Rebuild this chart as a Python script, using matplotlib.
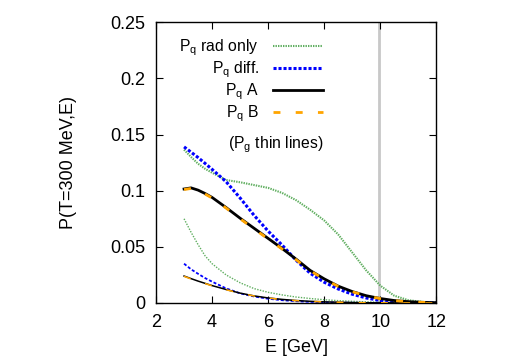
import matplotlib
matplotlib.use("Agg")
import matplotlib.pyplot as plt

plt.rcParams['font.family'] = ['Liberation Sans', 'DejaVu Sans']
plt.rcParams['mathtext.fontset'] = 'custom'
plt.rcParams['mathtext.rm'] = 'Liberation Sans'
plt.rcParams['lines.scale_dashes'] = False

# ---- data ----
E = [3.0, 3.25, 3.5, 3.75, 4.0, 4.5, 5.0, 5.5, 6.0, 6.5, 7.0, 7.5, 8.0, 8.5,
     9.0, 9.5, 10.0, 10.5, 11.0, 11.5, 12.0]

pq_rad = [0.1365, 0.1300, 0.1240, 0.1195, 0.1160, 0.1095, 0.1075, 0.1050, 0.1025,
          0.0980, 0.0915, 0.0830, 0.0735, 0.0610, 0.0450, 0.0290, 0.0155, 0.0065,
          0.0025, 0.0010, 0.0004]
pq_diff = [0.1390, 0.1343, 0.1295, 0.1243, 0.1190, 0.1080, 0.0935, 0.0780, 0.0640,
           0.0515, 0.0380, 0.0265, 0.0185, 0.0125, 0.0078, 0.0045, 0.0022, 0.0010,
           0.0004, 0.0002, 0.0001]
pq_A = [0.1015, 0.1025, 0.1005, 0.0975, 0.0940, 0.0850, 0.0755, 0.0665, 0.0575,
        0.0485, 0.0390, 0.0290, 0.0215, 0.0150, 0.0102, 0.0065, 0.0040, 0.0022,
        0.0012, 0.0006, 0.0003]
pq_B = [0.1010, 0.1020, 0.1000, 0.0970, 0.0935, 0.0845, 0.0750, 0.0660, 0.0570,
        0.0480, 0.0385, 0.0287, 0.0212, 0.0148, 0.0100, 0.0064, 0.0039, 0.0021,
        0.0011, 0.0006, 0.0003]

pg_rad = [0.0750, 0.0630, 0.0520, 0.0420, 0.0350, 0.0250, 0.0180, 0.0128, 0.0095,
          0.0072, 0.0053, 0.0040, 0.0029, 0.0021, 0.0015, 0.0010, 0.0007, 0.0005,
          0.0003, 0.0002, 0.0001]
pg_diff = [0.0350, 0.0300, 0.0260, 0.0222, 0.0190, 0.0130, 0.0086, 0.0058, 0.0038,
           0.0025, 0.0016, 0.0010, 0.0006, 0.0004, 0.0002, 0.0001, 0.0001, 0.0,
           0.0, 0.0, 0.0]
pg_A = [0.0240, 0.0217, 0.0195, 0.0175, 0.0155, 0.0120, 0.0088, 0.0063, 0.0045,
        0.0032, 0.0022, 0.0015, 0.0010, 0.0007, 0.0004, 0.0002, 0.00015, 0.0001,
        0.00005, 0.0, 0.0]
pg_B = [0.0237, 0.0214, 0.0193, 0.0173, 0.0153, 0.0118, 0.0087, 0.0062, 0.0044,
        0.0031, 0.0021, 0.0015, 0.0010, 0.0007, 0.0004, 0.0002, 0.00015, 0.0001,
        0.00005, 0.0, 0.0]

E_marker = 9.95

xticks = [2, 4, 6, 8, 10, 12]
yticks = [0, 0.05, 0.1, 0.15, 0.2, 0.25]
yticklabels = ['0', '0.05', '0.1', '0.15', '0.2', '0.25']

labels = [r'P$_\mathregular{q}$ rad only', r'P$_\mathregular{q}$ diff.',
          r'P$_\mathregular{q}$ A', r'P$_\mathregular{q}$ B']

# ---- styles ----
green = '#5fae5f'
blue = '#0000ff'
orange = '#ffa500'

fig = plt.figure(figsize=(5.18, 3.63), dpi=100)
ax = fig.add_axes([0.3012, 0.1653, 0.8423 - 0.3012, 0.9388 - 0.1653])

ax.axvline(E_marker, color='#c8c8c8', lw=2.0, zorder=1)

# thin lines (gluons)
ax.plot(E, pg_rad, color=green, lw=1.0, ls=(0, (1, 1)), zorder=2)
ax.plot(E, pg_diff, color=blue, lw=1.3, dashes=(2.2, 1.4), zorder=3)
ax.plot(E, pg_A, color='black', lw=1.1, zorder=4)
ax.plot(E, pg_B, color=orange, lw=1.1, dashes=(5, 11), zorder=5)

# thick lines (quarks)
l1, = ax.plot(E, pq_rad, color=green, lw=1.5, ls=(0, (1, 0.8)), zorder=2)
l2, = ax.plot(E, pq_diff, color=blue, lw=2.2, dashes=(2.2, 1.4), zorder=3)
l3, = ax.plot(E, pq_A, color='black', lw=2.0, zorder=4)
l4, = ax.plot(E, pq_B, color=orange, lw=2.0, dashes=(5, 11), zorder=5)

ax.set_xlim(2, 12)
ax.set_ylim(0, 0.25)
ax.set_xticks(xticks)
ax.set_yticks(yticks)
ax.set_yticklabels(yticklabels)
ax.tick_params(direction='in', top=True, right=True, length=5, width=0.8,
               labelsize=13, pad=8)
for s in ax.spines.values():
    s.set_linewidth(1.0)

ax.set_xlabel('E [GeV]', fontsize=13)
ax.set_ylabel('P(T=300 MeV,E)', fontsize=13)
ax.xaxis.set_label_coords(0.5, -0.127)
ax.yaxis.set_label_coords(-0.282, 0.5)

leg = ax.legend([l1, l2, l3, l4], labels, loc='upper right',
                bbox_to_anchor=(0.597, 0.946), frameon=False, markerfirst=False,
                fontsize=11.3, handlelength=3.2, handletextpad=0.9,
                labelspacing=0.1, borderpad=0, borderaxespad=0)

ax.text(0.597, 0.562, r'(P$_\mathregular{g}$ thin lines)', transform=ax.transAxes,
        ha='right', va='center', fontsize=11.3)

fig.savefig('out.png', dpi=100)
